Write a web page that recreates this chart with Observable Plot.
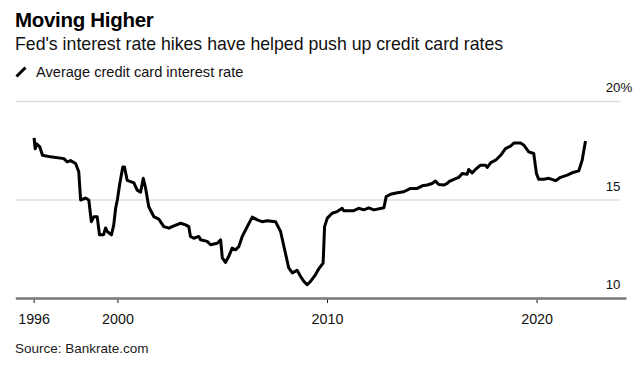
<!DOCTYPE html>
<html>
<head>
<meta charset="utf-8">
<script src="https://cdn.jsdelivr.net/npm/d3@7"></script>
<script src="https://cdn.jsdelivr.net/npm/@observablehq/plot@0.6"></script>
<style>
  html, body { margin: 0; padding: 0; background: #fff; }
  body { width: 643px; height: 375px; position: relative; overflow: hidden; font-family: "Liberation Sans", Arial, sans-serif; color: #000; }
  .abs { position: absolute; left: 15px; white-space: nowrap; line-height: 1; }
  #title { top: 10px; font-size: 20.5px; font-weight: bold; letter-spacing: -0.3px; }
  #subtitle { top: 36px; font-size: 17.7px; color: #111; }
  #legendIcon { top: 66px; left: 15px; }
  #legendText { top: 64.5px; left: 36px; font-size: 14.6px; color: #111; }
  #source { top: 342px; font-size: 13.5px; color: #222; }
  #chart { position: absolute; left: 0; top: 80px; }
</style>
</head>
<body>
<div id="title" class="abs">Moving Higher</div>
<div id="subtitle" class="abs">Fed's interest rate hikes have helped push up credit card rates</div>
<svg id="legendIcon" class="abs" width="12" height="12"><line x1="1.5" y1="10.5" x2="10.5" y2="1.5" stroke="#000" stroke-width="3"/></svg>
<div id="legendText" class="abs">Average credit card interest rate</div>
<div id="chart"></div>
<div id="source" class="abs">Source: Bankrate.com</div>
<script>
// Data (year as decimal, rate in %)
const years = [
  1996.00, 1996.05, 1996.12, 1996.27, 1996.40, 1996.78, 1997.42, 1997.58, 1997.74, 1997.98,
  1998.13, 1998.22, 1998.45, 1998.61, 1998.73, 1998.85, 1999.01, 1999.12, 1999.31, 1999.41,
  1999.49, 1999.69, 1999.80, 1999.89, 1999.97, 2000.09, 2000.23, 2000.31, 2000.44, 2000.76,
  2000.92, 2001.08, 2001.21, 2001.32, 2001.47, 2001.71, 2001.95, 2002.19, 2002.43, 2002.67,
  2002.99, 2003.23, 2003.38, 2003.46, 2003.62, 2003.86, 2003.94, 2004.26, 2004.42, 2004.74,
  2004.90, 2004.98, 2005.13, 2005.29, 2005.45, 2005.61, 2005.77, 2005.93, 2006.17, 2006.41,
  2006.65, 2006.88, 2007.12, 2007.52, 2007.76, 2007.92, 2008.15, 2008.32, 2008.55, 2008.71,
  2008.87, 2009.03, 2009.19, 2009.42, 2009.58, 2009.79, 2009.86, 2009.99, 2010.22, 2010.46,
  2010.70, 2010.76, 2011.25, 2011.49, 2011.73, 2011.97, 2012.21, 2012.69, 2012.80, 2013.01,
  2013.33, 2013.64, 2013.96, 2014.28, 2014.52, 2014.76, 2014.99, 2015.15, 2015.31, 2015.55,
  2015.71, 2015.79, 2016.03, 2016.26, 2016.43, 2016.66, 2016.74, 2016.90, 2017.06, 2017.30,
  2017.54, 2017.62, 2017.78, 2018.02, 2018.26, 2018.49, 2018.73, 2018.89, 2019.21, 2019.37,
  2019.60, 2019.84, 2019.97, 2020.08, 2020.32, 2020.56, 2020.88, 2021.12, 2021.44, 2021.67,
  2021.99, 2022.15, 2022.31
];
const rates = [
  18.15, 17.60, 17.85, 17.70, 17.27, 17.19, 17.10, 16.93, 17.00, 16.85,
  16.43, 15.00, 15.10, 15.00, 13.90, 14.15, 14.15, 13.23, 13.23, 13.58,
  13.40, 13.23, 13.74, 14.58, 15.00, 15.84, 16.68, 16.68, 16.00, 15.87,
  15.50, 15.40, 16.10, 15.60, 14.66, 14.16, 14.03, 13.65, 13.57, 13.69,
  13.82, 13.74, 13.65, 13.15, 13.06, 13.15, 12.98, 12.90, 12.73, 12.80,
  12.98, 12.06, 11.83, 12.14, 12.56, 12.47, 12.64, 13.15, 13.65, 14.13,
  13.99, 13.90, 13.95, 13.90, 13.40, 12.64, 11.55, 11.30, 11.43, 11.13,
  10.87, 10.70, 10.87, 11.20, 11.50, 11.80, 13.65, 14.08, 14.33, 14.41,
  14.58, 14.46, 14.46, 14.58, 14.50, 14.60, 14.50, 14.61, 15.17, 15.29,
  15.37, 15.42, 15.59, 15.59, 15.72, 15.76, 15.84, 15.96, 15.79, 15.76,
  15.84, 15.93, 16.05, 16.15, 16.34, 16.31, 16.55, 16.38, 16.55, 16.77,
  16.77, 16.65, 16.89, 17.02, 17.27, 17.61, 17.73, 17.89, 17.89, 17.78,
  17.44, 17.36, 16.34, 16.05, 16.05, 16.10, 15.98, 16.15, 16.26, 16.38,
  16.48, 17.02, 18.00
];
const xTicks = [1996, 2000, 2010, 2020];
const yTicks = [10, 15, 20];
const yGrid = [15, 20];

const data = years.map((y, i) => ({year: y, rate: rates[i]}));
const xDomain = [1995.15, 2023.98];
const font = '"Liberation Sans", Arial, sans-serif';

const chart = Plot.plot({
  width: 643,
  height: 253,
  marginLeft: 15.8,
  marginRight: 23,
  marginTop: 21,
  marginBottom: 35,
  style: {fontFamily: font, fontSize: "14.3px", color: "#111", background: "transparent"},
  x: {domain: xDomain, ticks: xTicks, tickFormat: d => String(d), tickSize: 5, tickPadding: 10, label: null},
  y: {domain: [10, 20], axis: null},
  marks: [
    Plot.ruleY(yGrid, {stroke: "#dedede", strokeWidth: 1.5}),
    Plot.line(data, {x: "year", y: "rate", stroke: "#000", strokeWidth: 3, strokeLinejoin: "round", strokeLinecap: "butt"}),
    Plot.ruleY([yTicks[0]], {stroke: "#777", strokeWidth: 2.5, insetRight: -6.5}),
    Plot.text(yTicks, {x: () => xDomain[1], y: d => d, text: d => String(d), textAnchor: "end", dy: -13.5, fontSize: 13.3, fill: "#111"}),
    Plot.text([yTicks[yTicks.length - 1]], {x: () => xDomain[1], y: d => d, text: () => "%", textAnchor: "start", dy: -13.5, fontSize: 13.3, fill: "#111"})
  ]
});
document.getElementById("chart").appendChild(chart);
</script>
</body>
</html>
